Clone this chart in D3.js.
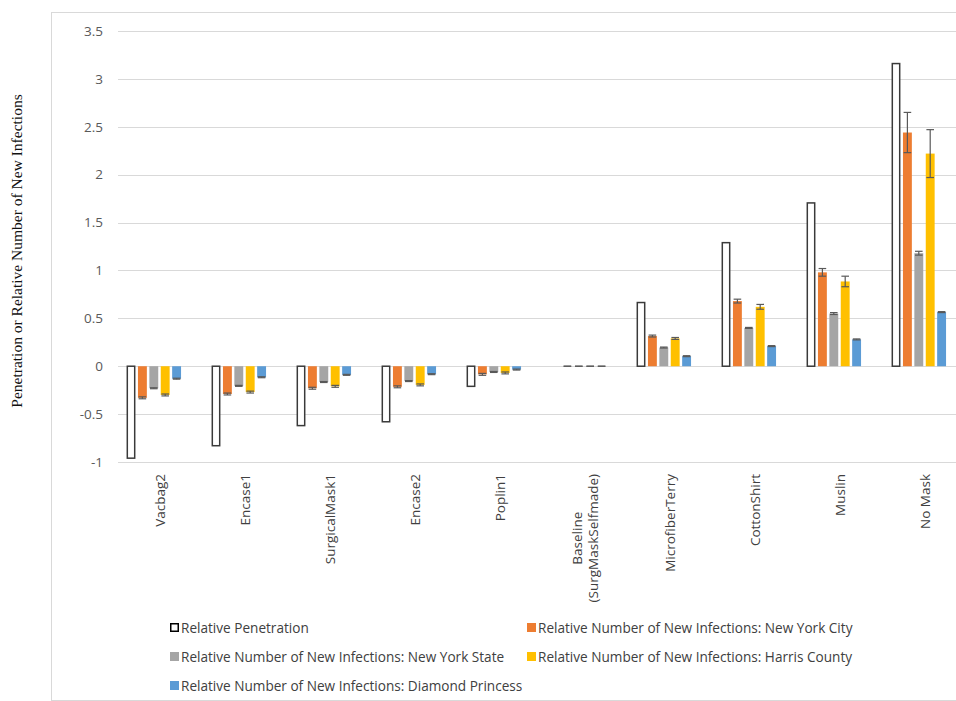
<!DOCTYPE html>
<html>
<head>
<meta charset="utf-8">
<script src="https://cdn.jsdelivr.net/npm/d3@7"></script>
<style>
  html, body { margin: 0; padding: 0; background: #fff; }
  svg { display: block; }
</style>
</head>
<body>
<svg id="chart" width="956" height="701"></svg>
<script>
// Mask materials along the x axis
const categories = ["Vacbag2", "Encase1", "SurgicalMask1", "Encase2", "Poplin1",
  "Baseline\n(SurgMaskSelfmade)", "MicrofiberTerry", "CottonShirt", "Muslin", "No Mask"];

const seriesNames = [
  "Relative Penetration",
  "Relative Number of New Infections: New York City",
  "Relative Number of New Infections: New York State",
  "Relative Number of New Infections: Harris County",
  "Relative Number of New Infections: Diamond Princess"
];

// Series values, one per category
const penetration = [-0.96, -0.83, -0.62, -0.58, -0.21, 0, 0.665, 1.29, 1.705, 3.16];
const newYorkCity = [-0.33, -0.29, -0.23, -0.215, -0.085, 0, 0.315, 0.68, 0.98, 2.44];
const newYorkState = [-0.23, -0.205, -0.165, -0.155, -0.06, 0, 0.195, 0.40, 0.55, 1.18];
const harrisCounty = [-0.30, -0.27, -0.21, -0.195, -0.07, 0, 0.29, 0.62, 0.885, 2.22];
const diamondPrincess = [-0.13, -0.115, -0.09, -0.083, -0.035, 0, 0.105, 0.21, 0.28, 0.565];

// Error bar half-widths (penetration has none)
const errNewYorkCity = [0.01, 0.01, 0.01, 0.01, 0.01, 0, 0.01, 0.02, 0.04, 0.21];
const errNewYorkState = [0.005, 0.005, 0.005, 0.005, 0.005, 0, 0.005, 0.005, 0.01, 0.02];
const errHarrisCounty = [0.01, 0.01, 0.01, 0.01, 0.01, 0, 0.01, 0.025, 0.055, 0.25];
const errDiamondPrincess = [0.005, 0.005, 0.005, 0.005, 0.005, 0, 0.005, 0.005, 0.005, 0.005];

const yTicks = [-1, -0.5, 0, 0.5, 1, 1.5, 2, 2.5, 3, 3.5];

const seriesValues = [penetration, newYorkCity, newYorkState, harrisCounty, diamondPrincess];
const seriesErrors = [null, errNewYorkCity, errNewYorkState, errHarrisCounty, errDiamondPrincess];
const fills = ["#ffffff", "#ED7D31", "#A5A5A5", "#FFC000", "#5B9BD5"];

const svg = d3.select("#chart");
const sansFont = "'Open Sans', Lato, sans-serif";

// Chart area frame
svg.append("rect")
  .attr("x", 51.5).attr("y", 12.5)
  .attr("width", 960).attr("height", 688)
  .attr("fill", "none").attr("stroke", "#d9d9d9").attr("stroke-width", 1);

const y = d3.scaleLinear().domain([-1, 3.5]).range([462, 31]);
const x0 = d3.scaleBand().domain(categories).range([111.3, 961.3]).paddingInner(0).paddingOuter(0);
const x1 = d3.scaleBand().domain(d3.range(seriesNames.length))
  .range([14, 71]).paddingInner(0.22).paddingOuter(0.11);

// Horizontal gridlines
svg.append("g").selectAll("line").data(yTicks).join("line")
  .attr("x1", 118).attr("x2", 956)
  .attr("y1", d => Math.round(y(d)) + 0.5).attr("y2", d => Math.round(y(d)) + 0.5)
  .attr("stroke", "#d9d9d9").attr("stroke-width", 1);

// Y axis tick labels
const yAxis = d3.axisLeft(y).tickValues(yTicks).tickSize(0).tickPadding(0)
  .tickFormat(d => String(d));
svg.append("g").attr("transform", "translate(103,0)").call(yAxis)
  .call(g => g.select(".domain").remove())
  .call(g => g.selectAll("text")
    .attr("fill", "#595959").attr("font-size", "13.5px").attr("font-family", sansFont));

// Bars
const groups = svg.append("g").selectAll("g").data(categories).join("g")
  .attr("transform", c => `translate(${x0(c)},0)`);

groups.each(function(c, ci) {
  const g = d3.select(this);
  seriesValues.forEach((vals, si) => {
    const v = vals[ci];
    const bx = x1(si), bw = x1.bandwidth();
    if (si === 0) {
      if (v !== 0) {
        g.append("rect")
          .attr("x", bx + 0.75).attr("width", bw - 1.5)
          .attr("y", Math.min(y(v), y(0))).attr("height", Math.abs(y(v) - y(0)))
          .attr("fill", "#fff").attr("stroke", "#3a3a3a").attr("stroke-width", 1.5);
      }
    } else {
      g.append("rect")
        .attr("x", bx).attr("width", bw)
        .attr("y", Math.min(y(v), y(0))).attr("height", Math.abs(y(v) - y(0)))
        .attr("fill", fills[si]);
      const e = seriesErrors[si][ci];
      const cx = bx + bw / 2, cap = 3.8;
      const eg = g.append("g").attr("stroke", "#595959").attr("stroke-width", 1.2);
      eg.append("line").attr("x1", cx).attr("x2", cx).attr("y1", y(v - e)).attr("y2", y(v + e));
      eg.append("line").attr("x1", cx - cap).attr("x2", cx + cap).attr("y1", y(v + e)).attr("y2", y(v + e));
      eg.append("line").attr("x1", cx - cap).attr("x2", cx + cap).attr("y1", y(v - e)).attr("y2", y(v - e));
    }
  });
});

// Category labels, rotated
const xLabels = svg.append("g").selectAll("text").data(categories).join("text")
  .attr("font-size", "13.5px").attr("font-family", sansFont).attr("fill", "#404040")
  .attr("text-anchor", "middle")
  .attr("transform", c => `translate(${x0(c) + x0.bandwidth() / 2 + 6},0) rotate(-90)`);
xLabels.each(function(c) {
  const lines = c.split("\n");
  const t = d3.select(this);
  lines.forEach((ln, i) => {
    t.append("tspan")
      .attr("x", 0).attr("y", (i - (lines.length - 1) / 2) * 16 + 4.8)
      .text(ln);
  });
});
// place each label so its top end sits just below the plot
xLabels.each(function() {
  const t = d3.select(this);
  const w = d3.max(t.selectAll("tspan").nodes(), n => n.getComputedTextLength());
  const tr = t.attr("transform");
  t.attr("transform", tr.replace("rotate(-90)", `rotate(-90) translate(${-(474 + w / 2)},0)`));
});

// Y axis title
svg.append("text")
  .attr("transform", "translate(22,251) rotate(-90)")
  .attr("text-anchor", "middle")
  .attr("font-family", "'Liberation Serif', 'Times New Roman', serif")
  .attr("font-size", "15.5px").attr("fill", "#111")
  .text("Penetration or Relative Number of New Infections");

// Legend
const legendPos = [
  [170, 628], [527, 628],
  [170, 657], [527, 657],
  [170, 686]
];
const legend = svg.append("g").selectAll("g").data(seriesNames).join("g")
  .attr("transform", (d, i) => `translate(${legendPos[i][0]},${legendPos[i][1]})`);
legend.append("rect")
  .attr("x", (d, i) => i === 0 ? 0.75 : 0).attr("y", (d, i) => i === 0 ? -4.25 : -5)
  .attr("width", (d, i) => i === 0 ? 7.5 : 9).attr("height", (d, i) => i === 0 ? 7.5 : 9)
  .attr("fill", (d, i) => fills[i])
  .attr("stroke", (d, i) => i === 0 ? "#000" : "none").attr("stroke-width", 1.5);
legend.append("text")
  .attr("x", 11).attr("y", 0).attr("dy", "0.35em")
  .attr("font-size", "13.6px").attr("font-family", sansFont).attr("fill", "#404040")
  .text(d => d);
</script>
</body>
</html>
